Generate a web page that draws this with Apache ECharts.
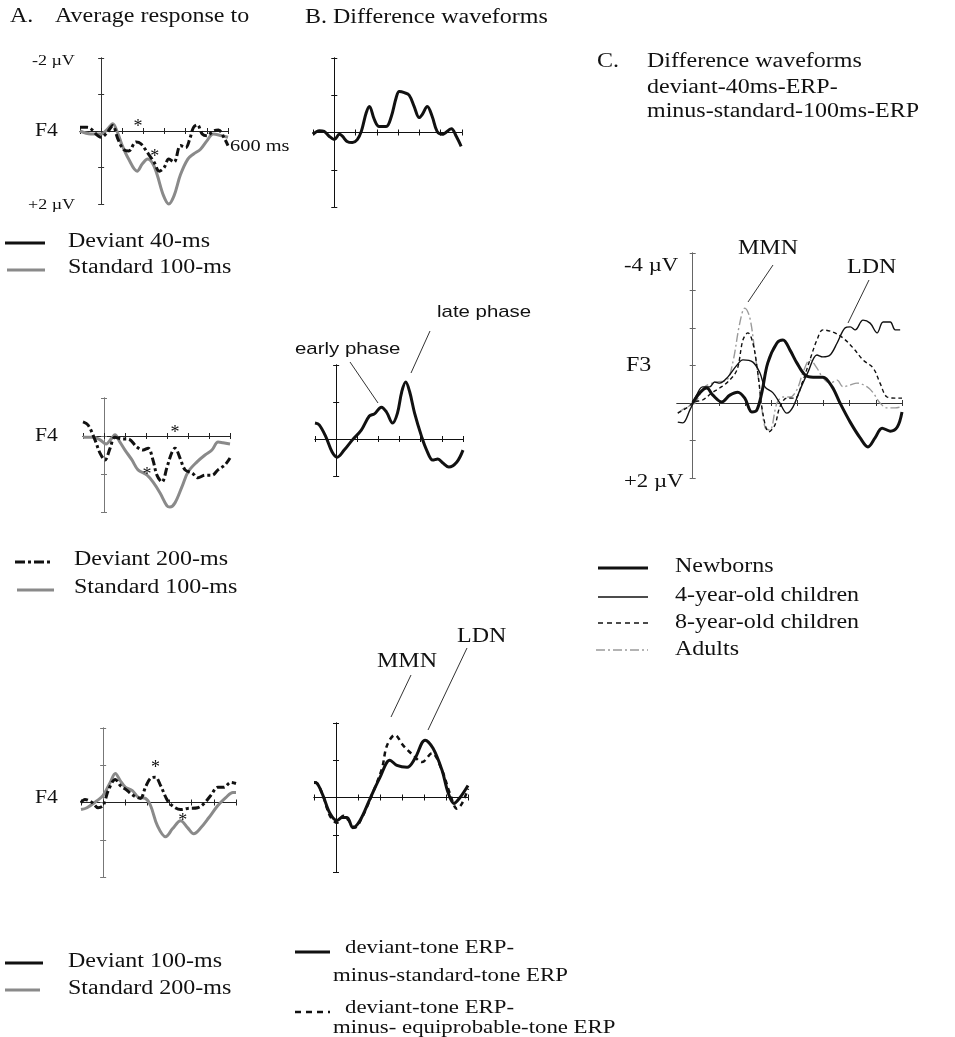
<!DOCTYPE html>
<html><head><meta charset="utf-8">
<script src="https://cdn.jsdelivr.net/npm/echarts@6/dist/echarts.min.js"></script>
<style>html,body{margin:0;padding:0;background:#fff}#c{width:955px;height:1037px}</style>
</head><body><div id="c"></div>
<script>
// ---------- data: [time ms, amplitude µV] ----------
const a1Deviant40 = [[-100,-0.1],[-65,-0.1],[0,0.17],[30,0.03],[55,-0.15],[78,0.2],[105,0.5],[130,0.55],[165,0.3],[188,0.35],[220,0.6],[250,0.85],[275,1.1],[298,1.0],[320,0.77],[345,0.85],[375,0.4],[400,0.45],[420,0.2],[437,-0.1],[455,-0.17],[478,0.08],[500,0.13],[530,0.0],[555,-0.03],[580,0.17],[600,0.4]];
const a1Standard100 = [[-100,0],[-50,0.08],[0,0.08],[30,-0.05],[55,-0.2],[78,0.05],[100,0.4],[130,0.77],[170,1.1],[195,0.9],[220,0.77],[245,0.9],[265,1.2],[295,1.77],[320,2.0],[345,1.77],[375,1.2],[410,0.77],[437,0.63],[470,0.5],[500,0.27],[530,0.08],[570,0.13],[600,0.17]];
const a2Deviant200 = [[-100,-0.37],[-76,-0.29],[-43,0.1],[-19,0.45],[5,0.63],[29,0.32],[52,0.03],[86,0.08],[114,0.08],[157,0.29],[186,0.37],[210,0.32],[233,0.63],[252,1.03],[276,1.21],[300,0.82],[324,0.42],[338,0.32],[362,0.58],[386,0.89],[419,0.97],[448,1.1],[481,1.03],[514,1.03],[543,0.89],[576,0.76],[600,0.58]];
const a2Standard100 = [[-100,0.03],[-52,0.03],[-19,0.1],[10,0.21],[38,0.05],[52,-0.03],[76,0.16],[100,0.37],[133,0.63],[162,0.89],[205,1.03],[233,1.21],[267,1.5],[300,1.84],[314,1.87],[338,1.76],[371,1.34],[400,0.95],[443,0.68],[481,0.5],[514,0.37],[543,0.16],[567,0.18],[600,0.21]];
const a3Deviant100 = [[-100,0],[-82,-0.08],[-50,0],[-23,0.14],[0,0.08],[23,-0.32],[55,-0.62],[77,-0.46],[109,-0.32],[136,-0.19],[168,-0.11],[191,-0.41],[214,-0.65],[236,-0.68],[259,-0.46],[291,-0.05],[318,0.11],[350,0.19],[382,0.16],[427,0.14],[455,0.03],[486,-0.19],[518,-0.41],[545,-0.41],[577,-0.54],[600,-0.51]];
const a3Standard200 = [[-100,0.19],[-73,0.14],[-27,-0.05],[0,-0.19],[32,-0.54],[55,-0.78],[77,-0.59],[100,-0.41],[132,-0.32],[159,-0.14],[191,-0.11],[214,0.08],[245,0.62],[282,0.92],[314,0.7],[350,0.49],[382,0.68],[409,0.84],[441,0.68],[477,0.41],[518,0.08],[555,-0.14],[586,-0.27],[600,-0.27]];
const b1Difference = [[-100,0.05],[-70,-0.05],[-48,-0.03],[-24,0.1],[0,0.19],[24,0.05],[38,0.1],[60,0.24],[85,0.27],[108,0.19],[127,-0.03],[150,-0.53],[165,-0.7],[188,-0.35],[211,-0.16],[244,-0.16],[268,-0.43],[291,-0.94],[305,-1.1],[329,-1.07],[352,-1.0],[375,-0.7],[399,-0.4],[413,-0.48],[437,-0.7],[460,-0.43],[483,-0.03],[507,0.05],[550,-0.1],[573,0.1],[596,0.37]];
const b2Difference = [[-100,-0.43],[-80,-0.38],[-48,-0.05],[-19,0.35],[5,0.49],[38,0.3],[76,0.03],[119,-0.24],[157,-0.62],[181,-0.68],[214,-0.86],[238,-0.73],[267,-0.43],[290,-0.7],[310,-1.27],[329,-1.54],[348,-1.27],[371,-0.7],[405,-0.05],[428,0.3],[457,0.57],[481,0.54],[505,0.65],[533,0.76],[571,0.62],[600,0.3]];
const b3DevMinusStd = [[-100,-0.4],[-86,-0.38],[-59,-0.05],[-27,0.43],[5,0.62],[27,0.54],[50,0.54],[77,0.81],[109,0.62],[155,0.03],[200,-0.54],[245,-1.0],[277,-0.86],[323,-0.81],[359,-1.05],[405,-1.54],[441,-1.32],[482,-0.73],[509,-0.14],[536,0.16],[564,0.0],[600,-0.32]];
const b3DevMinusEqui = [[-100,-0.4],[-86,-0.38],[-59,-0.05],[-27,0.5],[5,0.68],[32,0.49],[55,0.6],[86,0.81],[118,0.54],[168,-0.14],[209,-0.78],[232,-1.4],[268,-1.68],[305,-1.4],[350,-1.14],[391,-0.95],[436,-1.19],[482,-0.73],[518,-0.1],[550,0.3],[573,0.16],[600,-0.24]];
const cNewborns = [[0,0],[27,-0.27],[54,-0.4],[77,-0.21],[111,-0.03],[142,-0.21],[172,-0.29],[199,-0.13],[226,0.24],[245,0.19],[264,-0.27],[287,-1.07],[322,-1.6],[345,-1.68],[372,-1.41],[398,-1.07],[429,-0.75],[460,-0.69],[498,-0.69],[533,-0.43],[563,0],[602,0.51],[640,0.93],[670,1.17],[697,0.93],[724,0.67],[755,0.75],[782,0.64],[800,0.24]];
const cFourYear = [[-57,0.51],[-38,0.53],[-11,0.19],[15,-0.21],[38,-0.43],[65,-0.43],[84,-0.56],[103,-0.53],[134,-0.69],[169,-1.01],[192,-1.15],[230,-1.09],[257,-0.8],[276,-0.43],[307,-0.27],[333,0],[360,0.27],[383,0.11],[410,-0.35],[441,-0.83],[475,-1.28],[498,-1.23],[525,-1.28],[552,-1.6],[582,-2.0],[602,-2.03],[621,-1.95],[651,-2.21],[678,-2.13],[705,-1.87],[728,-2.16],[755,-2.16],[774,-1.95],[793,-1.95]];
const cEightYear = [[-57,0.27],[-23,0.13],[8,-0.03],[38,-0.08],[73,-0.27],[103,-0.4],[134,-0.56],[169,-0.88],[192,-1.68],[211,-1.87],[230,-1.6],[249,-0.8],[268,0.27],[291,0.77],[314,0.59],[333,0.11],[360,-0.13],[391,-0.13],[418,-0.53],[448,-1.15],[475,-1.68],[498,-1.95],[536,-1.89],[575,-1.73],[613,-1.47],[651,-1.15],[690,-0.93],[716,-0.53],[743,-0.16],[774,-0.13],[800,-0.13]];
const cAdults = [[-57,0.27],[-23,0.11],[8,0],[46,-0.43],[92,-0.56],[130,-0.61],[153,-1.07],[180,-2.13],[199,-2.53],[218,-2.29],[238,-1.33],[257,-0.35],[276,0.64],[295,0.72],[322,0],[345,-0.16],[372,-0.16],[398,-0.35],[421,-0.8],[448,-1.15],[475,-0.93],[498,-0.67],[525,-0.53],[552,-0.61],[575,-0.43],[602,-0.48],[628,-0.53],[667,-0.43],[690,-0.27],[716,0],[743,0.13],[774,0.13],[793,0.11]];
// significance asterisks [ms, µV]
const a1Stars = [[174,-0.19],[253,0.63]];
const a2Stars = [[205,0.95],[338,-0.16]];
const a3Stars = [[236,-1.0],[359,0.41]];
const cTicks = [0,100,200,300,400,500,600,700,800];

// ---------- layout ----------
const SERIF = '"Liberation Serif","Times New Roman",serif';
const SANS = '"Liberation Sans",Arial,sans-serif';
const GRAY = '#8a8a8a';
const panels = [
  {left:80, top:58, width:148, height:146, x:[-100,600], y:[-2,2], xc:'#222', yc:'#333'},
  {left:313, top:58, width:149, height:149, x:[-100,600], y:[-2,2], xc:'#111', yc:'#111'},
  {left:83, top:398, width:147, height:114, x:[-100,600], y:[-1,2], xc:'#222', yc:'#777'},
  {left:315, top:365, width:148, height:111, x:[-100,600], y:[-2,1], xc:'#111', yc:'#111'},
  {left:81, top:728, width:155, height:149, x:[-100,600], y:[-2,2], xc:'#222', yc:'#777'},
  {left:314, top:723, width:154, height:149, x:[-100,600], y:[-2,2], xc:'#111', yc:'#111'},
  {left:677, top:253, width:225, height:225, x:[-60,800], y:[-4,2], xc:'#333', yc:'#666', custom:true}
];

const grid = [], xAxis = [], yAxis = [];
panels.forEach((p, i) => {
  grid.push({left:p.left, top:p.top, width:p.width, height:p.height, containLabel:false});
  ['bottom','top'].forEach(pos => {
    const ax = {gridIndex:i, type:'value', min:p.x[0], max:p.x[1], position:pos,
      axisLine:{show:true, onZero:true, lineStyle:{color:p.xc, width:1}},
      axisTick:{show:true, inside:false, length:3, lineStyle:{color:p.xc, width:1}},
      axisLabel:{show:false}, splitLine:{show:false}};
    if (p.custom) { ax.axisTick.customValues = cTicks; } else { ax.interval = 100; }
    xAxis.push(ax);
  });
  ['left','right'].forEach(pos => {
    yAxis.push({gridIndex:i, type:'value', min:p.y[0], max:p.y[1], interval:1, inverse:true, position:pos,
      axisLine:{show:true, onZero:true, lineStyle:{color:p.yc, width:1}},
      axisTick:{show:true, inside:false, length:3, lineStyle:{color:p.yc, width:1}},
      axisLabel:{show:false}, splitLine:{show:false}});
  });
});

function stars(list) {
  return {symbol:'circle', symbolSize:0, silent:true,
    label:{show:true, formatter:'*', color:'#111', fontFamily:SERIF, fontSize:18, position:'inside', offset:[0,3]},
    data:list.map(c => ({coord:c}))};
}
function line(i, data, color, width, type, extra) {
  return Object.assign({type:'line', xAxisIndex:2*i, yAxisIndex:2*i, data, symbol:'none', showSymbol:false,
    smooth:0.35, clip:false, silent:true, animation:false,
    lineStyle:{color, width, type}}, extra || {});
}
const DASHDOT = [8,3,3,3];
const series = [
  line(0, a1Standard100, GRAY, 3, 'solid'),
  line(0, a1Deviant40, '#111', 3, DASHDOT, {markPoint:stars(a1Stars)}),
  line(1, b1Difference, '#111', 3, 'solid'),
  line(2, a2Standard100, GRAY, 3, 'solid'),
  line(2, a2Deviant200, '#111', 3, DASHDOT, {markPoint:stars(a2Stars)}),
  line(3, b2Difference, '#111', 3, 'solid'),
  line(4, a3Standard200, GRAY, 3, 'solid'),
  line(4, a3Deviant100, '#111', 3, DASHDOT, {markPoint:stars(a3Stars)}),
  line(5, b3DevMinusEqui, '#111', 2.5, [5,4]),
  line(5, b3DevMinusStd, '#111', 3, 'solid'),
  line(6, cAdults, '#9a9a9a', 1.4, [9,3,2,3]),
  line(6, cEightYear, '#111', 1.4, [4,3]),
  line(6, cFourYear, '#111', 1.4, 'solid'),
  line(6, cNewborns, '#111', 3, 'solid')
];

// ---------- text & legend graphics ----------
function T(text, x, y, size, font, sx) {
  return {type:'text', x, y, scaleX: sx || 1.2, silent:true,
    style:{text, fill:'#111', font: size + 'px ' + (font || SERIF), align:'left', verticalAlign:'middle'}};
}
function L(x1, y1, x2, y2, color, w, dash) {
  return {type:'line', silent:true, shape:{x1, y1, x2, y2},
    style:{stroke:color, lineWidth:w, lineDash:dash || null}};
}
const graphic = [
  T('A.', 10, 17, 20), T('Average response to', 55, 17, 20),
  T('B. Difference waveforms', 305, 18, 20),
  T('C.', 597, 62, 20), T('Difference waveforms', 647, 62, 20),
  T('deviant-40ms-ERP-', 647, 88, 20), T('minus-standard-100ms-ERP', 647, 112, 20),
  // panel A1
  T('-2 µV', 32, 61, 15), T('+2 µV', 28, 205, 15), T('F4', 35, 131, 18), T('600 ms', 230, 147, 17),
  L(5, 243, 45, 243, '#111', 3), T('Deviant 40-ms', 68, 242, 20),
  L(7, 270, 45, 270, GRAY, 3), T('Standard 100-ms', 68, 268, 20),
  // panel A2
  T('F4', 35, 436, 18),
  L(15, 562, 53, 562, '#111', 3, [10,3,3,3]), T('Deviant 200-ms', 74, 560, 20),
  L(17, 590, 54, 590, GRAY, 3), T('Standard 100-ms', 74, 588, 20),
  // panel A3
  T('F4', 35, 798, 18),
  L(5, 963, 43, 963, '#111', 3), T('Deviant 100-ms', 68, 962, 20),
  L(5, 990, 40, 990, GRAY, 3), T('Standard 200-ms', 68, 989, 20),
  // panel B2 annotations
  T('early phase', 295, 349, 17, SANS), T('late phase', 437, 312, 17, SANS),
  L(350, 362, 378, 403, '#333', 1), L(430, 331, 411, 373, '#333', 1),
  // panel B3 annotations
  T('MMN', 377, 662, 20), T('LDN', 457, 637, 20),
  L(411, 675, 391, 717, '#333', 1), L(467, 648, 428, 730, '#333', 1),
  L(295, 952, 330, 952, '#111', 3), T('deviant-tone ERP-', 345, 948, 19), T('minus-standard-tone ERP', 333, 976, 19),
  L(295, 1012, 330, 1012, '#111', 2.5, [6,5]), T('deviant-tone ERP-', 345, 1008, 19), T('minus- equiprobable-tone ERP', 333, 1028, 19),
  // panel C
  T('-4 µV', 624, 266, 19), T('F3', 626, 366, 20), T('+2 µV', 624, 482, 19),
  T('MMN', 738, 249, 20), T('LDN', 847, 268, 20),
  L(773, 265, 748, 302, '#333', 1), L(869, 280, 848, 323, '#333', 1),
  L(598, 568, 648, 568, '#111', 3), T('Newborns', 675, 567, 20),
  L(598, 597, 648, 597, '#111', 1.4), T('4-year-old children', 675, 596, 20),
  L(598, 623, 648, 623, '#111', 1.4, [5,4]), T('8-year-old children', 675, 623, 20),
  L(596, 650, 648, 650, '#9a9a9a', 1.4, [9,3,2,3]), T('Adults', 675, 650, 20)
];

const chart = echarts.init(document.getElementById('c'), null, {renderer:'canvas'});
chart.setOption({backgroundColor:'#fff', animation:false, grid, xAxis, yAxis, series, graphic});
</script></body></html>
